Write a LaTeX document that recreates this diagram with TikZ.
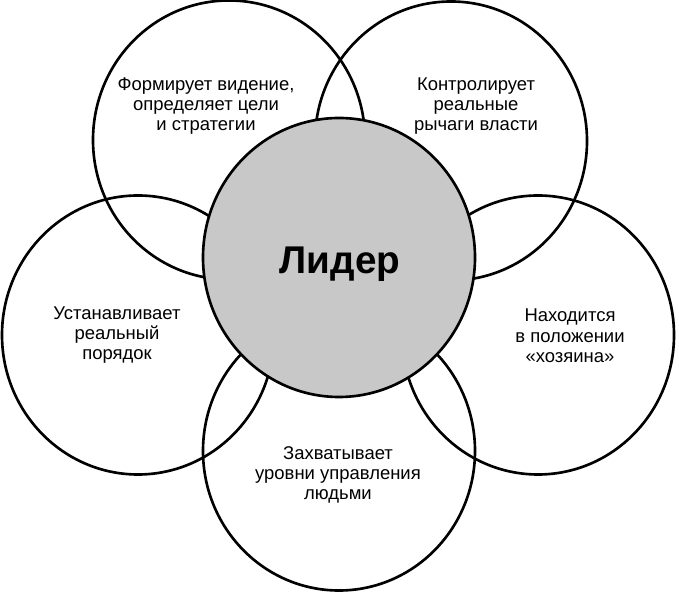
\documentclass[tikz,border=0pt]{standalone}
\usepackage{fontspec}
\setmainfont{Liberation Sans}
\definecolor{leadergray}{HTML}{C8C8C8}
\tikzset{
  petal/.style = {draw, line width = 1.5pt},
  petaltext/.style = {align = center, font = \fontsize{10.5}{11.6}\selectfont},
}
\begin{document}
\begin{tikzpicture}
  \useasboundingbox (0, 0) rectangle (13.58, 12.02);
  % outer circles
  \draw[petal] (4.58, 9.22) ellipse [x radius = 2.72, y radius = 2.79];
  \draw[petal] (9.02, 9.20) ellipse [x radius = 2.72, y radius = 2.79];
  \draw[petal] (2.76, 5.32) ellipse [x radius = 2.72, y radius = 2.79];
  \draw[petal] (10.76, 5.32) ellipse [x radius = 2.72, y radius = 2.79];
  \draw[petal] (6.78, 3.00) ellipse [x radius = 2.72, y radius = 2.79];
  % centre
  \draw[petal, fill = leadergray] (6.78, 6.87) ellipse [x radius = 2.72, y radius = 2.79];
  \node[font = \bfseries\fontsize{22}{26}\selectfont] (leader) at (6.80, 6.74) {Лидер};
  \node[petaltext] (vision) at (4.12, 9.90) {Формирует видение,\\определяет цели\\и стратегии};
  \node[petaltext] (power) at (9.52, 9.90) {Контролирует\\реальные\\рычаги власти};
  \node[petaltext] (order) at (2.34, 5.32) {Устанавливает\\реальный\\порядок};
  \node[petaltext] (master) at (11.40, 5.30) {Находится\\в положении\\«хозяина»};
  \node[petaltext] (levels) at (6.76, 2.52) {Захватывает\\уровни управления\\людьми};
\end{tikzpicture}
\end{document}
